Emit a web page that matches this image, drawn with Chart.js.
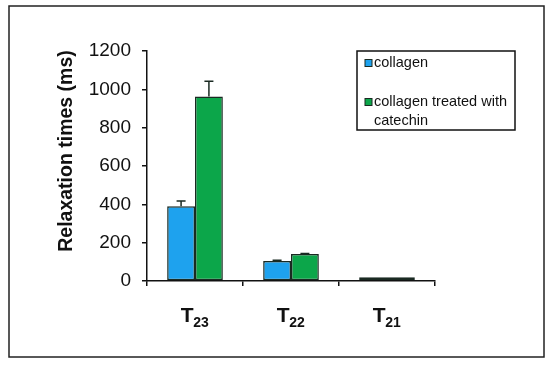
<!DOCTYPE html>
<html>
<head>
<meta charset="utf-8">
<script src="https://cdn.jsdelivr.net/npm/chart.js@4/dist/chart.umd.min.js"></script>
<style>
html,body{margin:0;padding:0;background:#fff;}
#wrap{position:relative;width:550px;height:365px;}
</style>
</head>
<body>
<div id="wrap"><canvas id="c" width="550" height="365"></canvas></div>
<script>
// Data
const categories = [['T', '23'], ['T', '22'], ['T', '21']];
const seriesNames = ['collagen', 'collagen treated with catechin'];
const collagen = [390, 104, 19];
const collagenErr = [27, 4, 0];
const catechin = [962, 141, 19];
const catechinErr = [80, 2, 0];
const yTicks = [0, 200, 400, 600, 800, 1000, 1200];
const yTitle = 'Relaxation times (ms)';

const blue = '#1ea2ee';
const green = '#0ca64a';
const edge = '#1a2a22';

const extras = {
  id: 'extras',
  beforeDraw(chart) {
    const ctx = chart.ctx;
    ctx.save();
    ctx.fillStyle = '#fff';
    ctx.fillRect(0, 0, chart.width, chart.height);
    ctx.restore();
  },
  afterDatasetsDraw(chart) {
    const ctx = chart.ctx;
    const ys = chart.scales.y;
    const errs = [collagenErr, catechinErr];
    ctx.save();
    ctx.strokeStyle = edge;
    ctx.lineWidth = 1.5;
    chart.data.datasets.forEach((ds, i) => {
      const meta = chart.getDatasetMeta(i);
      meta.data.forEach((bar, j) => {
        const e = errs[i][j];
        if (!e) return;
        const top = ys.getPixelForValue(ds.data[j] + e);
        ctx.beginPath();
        ctx.moveTo(bar.x, bar.y);
        ctx.lineTo(bar.x, top);
        ctx.moveTo(bar.x - 4.5, top);
        ctx.lineTo(bar.x + 4.5, top);
        ctx.stroke();
      });
    });
    ctx.restore();
  },
  afterDraw(chart) {
    const ctx = chart.ctx;
    const xs = chart.scales.x;
    ctx.save();
    // outer frame
    ctx.strokeStyle = '#222';
    ctx.lineWidth = 1.5;
    ctx.strokeRect(9, 6, 535, 351);
    // x labels with subscripts
    ctx.fillStyle = '#111';
    ctx.textBaseline = 'alphabetic';
    categories.forEach((c, i) => {
      const cx = xs.getPixelForValue(i);
      ctx.font = 'bold 21px "Liberation Sans", Arial, sans-serif';
      const w1 = ctx.measureText(c[0]).width;
      ctx.font = 'bold 14px "Liberation Sans", Arial, sans-serif';
      const w2 = ctx.measureText(c[1]).width;
      const x0 = cx - (w1 + w2) / 2;
      ctx.font = 'bold 21px "Liberation Sans", Arial, sans-serif';
      ctx.textAlign = 'left';
      ctx.fillText(c[0], x0, 322);
      ctx.font = 'bold 14px "Liberation Sans", Arial, sans-serif';
      ctx.fillText(c[1], x0 + w1 - 0.5, 327);
    });
    // y title
    ctx.save();
    ctx.translate(67, 151);
    ctx.rotate(-Math.PI / 2);
    ctx.font = 'bold 19.5px "Liberation Sans", Arial, sans-serif';
    ctx.textAlign = 'center';
    ctx.textBaseline = 'middle';
    ctx.fillStyle = '#111';
    ctx.fillText(yTitle, 0, 0);
    ctx.restore();
    // legend
    const lx = 357, ly = 51, lw = 158, lh = 79;
    ctx.fillStyle = '#fff';
    ctx.fillRect(lx, ly, lw, lh);
    ctx.strokeStyle = '#111';
    ctx.lineWidth = 1.5;
    ctx.strokeRect(lx, ly, lw, lh);
    ctx.font = '14.5px "Liberation Sans", Arial, sans-serif';
    ctx.textAlign = 'left';
    ctx.textBaseline = 'middle';
    const rows = [63, 102];
    chart.data.datasets.forEach((ds, i) => {
      const y = rows[i];
      ctx.fillStyle = ds.backgroundColor;
      ctx.fillRect(365, y - 3.5, 7, 7);
      ctx.strokeStyle = edge;
      ctx.lineWidth = 1;
      ctx.strokeRect(365, y - 3.5, 7, 7);
      const words = ds.label.split(' ');
      const lines = [];
      let cur = '';
      words.forEach(w => {
        const t = cur ? cur + ' ' + w : w;
        if (ctx.measureText(t).width > 135 && cur) { lines.push(cur); cur = w; }
        else cur = t;
      });
      lines.push(cur);
      ctx.fillStyle = '#111';
      lines.forEach((ln, k) => ctx.fillText(ln, 374, y + k * 19));
    });
    ctx.restore();
  }
};

new Chart(document.getElementById('c'), {
  type: 'bar',
  data: {
    labels: categories.map(c => c[0] + c[1]),
    datasets: [
      { label: seriesNames[0], data: collagen, backgroundColor: blue, borderColor: edge, borderWidth: 1.5, borderSkipped: false },
      { label: seriesNames[1], data: catechin, backgroundColor: green, borderColor: edge, borderWidth: 1.5, borderSkipped: false }
    ]
  },
  options: {
    responsive: false,
    animation: false,
    devicePixelRatio: 1,
    layout: { padding: { left: 0, top: 51, right: 115, bottom: 0 } },
    plugins: { legend: { display: false }, tooltip: { enabled: false }, title: { display: false } },
    datasets: { bar: { categoryPercentage: 0.58, barPercentage: 1.0 } },
    scales: {
      x: {
        offset: true,
        grid: { offset: true, drawOnChartArea: false, color: '#111', tickLength: 5, lineWidth: 1.5 },
        border: { color: '#111', width: 1.5 },
        ticks: { display: false },
        afterFit: s => { s.height = 84; }
      },
      y: {
        min: 0, max: 1200,
        afterBuildTicks: s => { s.ticks = yTicks.map(v => ({ value: v })); },
        grid: { drawOnChartArea: false, color: '#111', tickLength: 5, lineWidth: 1.5 },
        border: { color: '#111', width: 1.5 },
        ticks: { color: '#111', padding: 11, callback: v => String(v), font: { size: 19, family: '"Liberation Sans", Arial, sans-serif' } },
        afterFit: s => { s.width = 147; }
      }
    }
  },
  plugins: [extras]
});
</script>
</body>
</html>
